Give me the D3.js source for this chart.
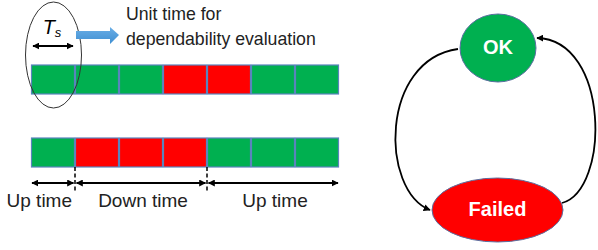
<!DOCTYPE html>
<html><head><meta charset="utf-8">
<script src="https://cdn.jsdelivr.net/npm/d3@7"></script>
<style>body{margin:0;background:#fff}svg{display:block}</style>
</head><body>
<svg id="c" width="598" height="250"></svg>
<script>
// Data
const row1States = ["up","up","up","down","down","up","up"];
const row2States = ["up","down","down","down","up","up","up"];
const stateLabels = {up:"Up time", down:"Down time"};
const stateColors = {up:"#00B050", down:"#FF0000"};
const unitLabel = ["Unit time for","dependability evaluation"];
const nodeNames = ["OK","Failed"];

const svg = d3.select("#c");
const font = "'Liberation Sans', Arial, sans-serif";

const x = d3.scaleLinear().domain([0, row1States.length]).range([31, 339]);
const rows = [{states: row1States, y: 65}, {states: row2States, y: 138}];
const cellH = 29;

const defs = svg.append("defs");
function marker(id){
  defs.append("marker").attr("id",id).attr("viewBox","0 0 10 10").attr("refX",9).attr("refY",5)
    .attr("markerWidth",7).attr("markerHeight",7).attr("markerUnits","userSpaceOnUse")
    .attr("orient","auto-start-reverse")
    .append("path").attr("d","M0,0 L10,5 L0,10 Z").attr("fill","#000");
}
marker("ah");
const grad = defs.append("linearGradient").attr("id","bg").attr("x1",0).attr("x2",0).attr("y1",0).attr("y2",1);
grad.append("stop").attr("offset","0").attr("stop-color","#6aaee6");
grad.append("stop").attr("offset","1").attr("stop-color","#3f8fd2");

rows.forEach(r => {
  svg.append("g").selectAll("rect").data(r.states).join("rect")
    .attr("x",(d,i)=>x(i)+0.5).attr("y",r.y)
    .attr("width",(d,i)=>x(i+1)-x(i)-1).attr("height",cellH)
    .attr("fill",d=>stateColors[d]).attr("stroke","#5b84bd").attr("stroke-width",1.2);
});

// Ellipse around first cell
svg.append("ellipse").attr("cx",(x(0)+x(1))/2+0.5).attr("cy",55).attr("rx",28).attr("ry",53)
  .attr("fill","none").attr("stroke","#333").attr("stroke-width",1);

// Ts label
const ts = svg.append("text").attr("x",(x(0)+x(1))/2-1).attr("y",34).attr("text-anchor","middle")
  .attr("font-family",font).attr("font-style","italic").attr("font-size",20).attr("fill","#000");
ts.append("tspan").text("T");
ts.append("tspan").attr("font-size",13).attr("dy",3).text("s");
svg.append("line").attr("x1",x(0)+2).attr("x2",x(1)-2).attr("y1",46).attr("y2",46)
  .attr("stroke","#000").attr("stroke-width",1.8)
  .attr("marker-start","url(#ah)").attr("marker-end","url(#ah)");

// Blue block arrow
svg.append("path").attr("d","M76,31 L110,31 L110,27 L119,35 L110,44 L110,39 L76,39 Z")
  .attr("fill","url(#bg)");

svg.append("g").selectAll("text").data(unitLabel).join("text")
  .attr("x",126).attr("y",(d,i)=>20+i*25).attr("font-family",font).attr("font-size",17.7)
  .attr("fill","#222").text(d=>d);

// Runs from row2
const runs = [];
row2States.forEach((s,i)=>{
  if(runs.length && runs[runs.length-1].state===s) runs[runs.length-1].end=i+1;
  else runs.push({state:s,start:i,end:i+1});
});
const ay = 183;
runs.forEach((r,k)=>{
  const x1 = x(r.start) + (k===0?1:1.5), x2 = x(r.end) - (k===runs.length-1?1:1.5);
  svg.append("line").attr("x1",x1).attr("x2",x2).attr("y1",ay).attr("y2",ay)
    .attr("stroke","#000").attr("stroke-width",1.8)
    .attr("marker-start","url(#ah)").attr("marker-end","url(#ah)");
  const t = svg.append("text").attr("y",207)
    .attr("font-family",font).attr("font-size",19).attr("fill","#222").text(stateLabels[r.state]);
  if (k===0) t.attr("x", x(r.end)-3).attr("text-anchor","end");
  else t.attr("x",(x(r.start)+x(r.end))/2 + 2).attr("text-anchor","middle");
});
runs.slice(1).forEach(r=>{
  svg.append("line").attr("x1",x(r.start)).attr("x2",x(r.start)).attr("y1",167).attr("y2",191)
    .attr("stroke","#000").attr("stroke-width",1.5).attr("stroke-dasharray","4,2.5");
});

// State diagram
svg.append("path").attr("d","M458,49 C380,60 380,190 430,210").attr("fill","none")
  .attr("stroke","#000").attr("stroke-width",1.8).attr("marker-end","url(#ah)");
svg.append("path").attr("d","M562,203 C610,190 610,40 537,38").attr("fill","none")
  .attr("stroke","#000").attr("stroke-width",1.8).attr("marker-end","url(#ah)");

const nodes = [{name:nodeNames[0],cx:498,cy:48,rx:38,ry:34,fill:"#00B050"},
               {name:nodeNames[1],cx:497.5,cy:210,rx:65.5,ry:32,fill:"#FF0000"}];
const ng = svg.append("g").selectAll("g").data(nodes).join("g");
ng.append("ellipse").attr("cx",d=>d.cx).attr("cy",d=>d.cy).attr("rx",d=>d.rx).attr("ry",d=>d.ry)
  .attr("fill",d=>d.fill).attr("stroke","#5b6fa0").attr("stroke-width",1);
ng.append("text").attr("x",d=>d.cx).attr("y",d=>d.cy+6).attr("text-anchor","middle")
  .attr("font-family",font).attr("font-weight","bold").attr("font-size",20).attr("fill","#fff")
  .text(d=>d.name);
</script>
</body></html>
